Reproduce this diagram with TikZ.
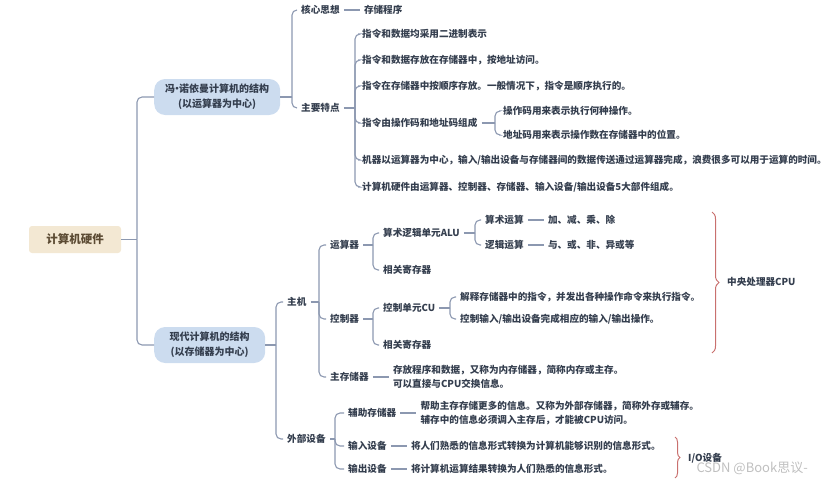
\documentclass[tikz,border=0pt]{standalone}
\usepackage{fontspec}
\newfontfamily\cjk{Noto Sans CJK SC}
\usetikzlibrary{positioning, decorations.pathreplacing}

\definecolor{lineC}{HTML}{8C98B0}
\definecolor{txtC}{HTML}{343E4E}
\definecolor{boxC}{HTML}{CCDCEF}
\definecolor{rootC}{HTML}{F3E8D3}
\definecolor{rootT}{HTML}{5C4B33}
\definecolor{braceC}{HTML}{C9706E}

\begin{document}
\begin{tikzpicture}[
			x=1pt, y=-1pt,
			node distance=16pt,
			every node/.style={font=\cjk\bfseries\fontsize{9.6}{13.5}\selectfont, text=txtC},
			item/.style={anchor=west, inner sep=4pt},
			root/.style={rectangle, rounded corners=3pt, fill=rootC, text=rootT, minimum width=92pt, minimum height=27pt, font=\cjk\bfseries\fontsize{11.5}{14}\selectfont},
			branch/.style={rectangle, rounded corners=11pt, fill=boxC, align=center, anchor=west, minimum height=36pt, inner sep=0pt, font=\cjk\bfseries\fontsize{10}{15}\selectfont},
			conn/.style={draw=lineC, line width=1.1pt, rounded corners=5pt},
			leafline/.style={draw=lineC, line width=1.1pt},
			cbrace/.style={draw=braceC, line width=1pt, decorate, decoration={brace, amplitude=7pt}},
			mark_wm/.style={anchor=west, text=gray!50, font=\cjk\fontsize{13}{15}\selectfont}
		]
		\useasboundingbox (0,0) rectangle (830,485);

		% --- RADICE ---
		\node (root) [root] at (75,239.5) {计算机硬件};
		\node (fn) [branch, minimum width=126pt] at (154,97) {冯\makebox[4pt]{·}诺依曼计算机的结构\\(以运算器为中心)};
		\node (xd) [branch, minimum width=111pt] at (154,345) {现代计算机的结构\\(以存储器为中心)};
		\coordinate (bRoot) at (137,0);

		% --- VON NEUMANN ---
		\coordinate (bFn) at (292,0);
		\node (hx) [item] at (297,10) {核心思想};
		\node (cc) [item, right=of hx] {存储程序};
		\node (tz) [item] at (297,108) {主要特点};

		\coordinate (bTz) at (355,0);
		\node (t1) [item] at (358,34) {指令和数据均采用二进制表示};
		\node (t2) [item] at (358,60) {指令和数据存放在存储器中，按地址访问。};
		\node (t3) [item] at (358,86) {指令在存储器中按顺序存放。一般情况下，指令是顺序执行的。};
		\node (t4) [item] at (358,123) {指令由操作码和地址码组成};
		\node (t5) [item] at (358,160) {机器以运算器为中心，输入/输出设备与存储器间的数据传送通过运算器完成，浪费很多可以用于运算的时间。};
		\node (t6) [item] at (358,187) {计算机硬件由运算器、控制器、存储器、输入设备/输出设备5大部件组成。};

		\coordinate (bZl) at (495,0);
		\node (z1) [item] at (499,111) {操作码用来表示执行何种操作。};
		\node (z2) [item] at (499,135) {地址码用来表示操作数在存储器中的位置。};

		% --- COMPUTER MODERNO ---
		\coordinate (bXd) at (276,0);
		\node (zj) [item] at (283,302) {主机};
		\node (wb) [item] at (283,439) {外部设备};

		\coordinate (bZj) at (319,0);
		\node (ys) [item] at (326,245) {运算器};
		\node (kz) [item] at (326,319) {控制器};
		\node (zc) [item] at (326,377) {主存储器};
		\node (zcT) [item, align=left, right=of zc] {存放程序和数据，又称为内存储器，简称内存或主存。\\可以直接与CPU交换信息。};

		% Unita' aritmetica
		\coordinate (bYs) at (373,0);
		\node (alu) [item] at (379,233) {算术逻辑单元ALU};
		\node (ysR) [item] at (379,270) {相关寄存器};
		\coordinate (bAlu) at (475,0);
		\node (sy) [item] at (481,220) {算术运算};
		\node (jj) [item, right=of sy] {加、减、乘、除};
		\node (ly) [item] at (481,245) {逻辑运算};
		\node (yh) [item, right=of ly] {与、或、非、异或等};

		% Unita' di controllo
		\coordinate (bKz) at (373,0);
		\node (cu) [item] at (379,308) {控制单元CU};
		\node (kzR) [item] at (379,345) {相关寄存器};
		\coordinate (bCu) at (450,0);
		\node (c1) [item] at (456,297) {解释存储器中的指令，并发出各种操作命令来执行指令。};
		\node (c2) [item] at (456,319) {控制输入/输出设备完成相应的输入/输出操作。};

		% Periferiche
		\coordinate (bWb) at (335,0);
		\node (fz) [item] at (344,413) {辅助存储器};
		\node (fzT) [item, align=left, right=of fz] {帮助主存存储更多的信息。又称为外部存储器，简称外存或辅存。\\辅存中的信息必须调入主存后，才能被CPU访问。};
		\node (sr) [item] at (344,446) {输入设备};
		\node (srT) [item, right=of sr] {将人们熟悉的信息形式转换为计算机能够识别的信息形式。};
		\node (sc) [item] at (344,469) {输出设备};
		\node (scT) [item, right=of sc] {将计算机运算结果转换为人们熟悉的信息形式。};

		% --- GRAFFE ---
		\coordinate (cpuT) at (712,212);
		\coordinate (cpuB) at (712,353);
		\node (cpu) [item] at (723,282) {中央处理器CPU};
		\coordinate (ioT) at (675,437);
		\coordinate (ioB) at (675,478);
		\node (io) [item] at (684,458) {I/O设备};
		\node (wm) [mark_wm] at (693,468) {CSDN @Book思议-};

		% --- COLLEGAMENTI ---
		\draw [conn] (root.east) -- (root.east -| bRoot);
		\foreach \c in {fn,xd} \draw [conn] (\c.west) -| (root.east -| bRoot);

		\draw [conn] (fn.east) -- (fn.east -| bFn);
		\foreach \c in {hx,tz} \draw [conn] (\c.west) -| (fn.east -| bFn);
		\draw [leafline] (hx) -- (cc);

		\draw [conn] (tz.east) -- (tz.east -| bTz);
		\foreach \c in {t1,t2,t3,t4,t5,t6} \draw [conn] (\c.west) -| (tz.east -| bTz);
		\draw [conn] (t4.east) -- (t4.east -| bZl);
		\foreach \c in {z1,z2} \draw [conn] (\c.west) -| (t4.east -| bZl);

		\draw [conn] (xd.east) -- (xd.east -| bXd);
		\foreach \c in {zj,wb} \draw [conn] (\c.west) -| (xd.east -| bXd);

		\draw [conn] (zj.east) -- (zj.east -| bZj);
		\foreach \c in {ys,kz,zc} \draw [conn] (\c.west) -| (zj.east -| bZj);
		\draw [leafline] (zc) -- (zcT);

		\draw [conn] (ys.east) -- (ys.east -| bYs);
		\foreach \c in {alu,ysR} \draw [conn] (\c.west) -| (ys.east -| bYs);
		\draw [conn] (alu.east) -- (alu.east -| bAlu);
		\foreach \c in {sy,ly} \draw [conn] (\c.west) -| (alu.east -| bAlu);
		\draw [leafline] (sy) -- (jj);
		\draw [leafline] (ly) -- (yh);

		\draw [conn] (kz.east) -- (kz.east -| bKz);
		\foreach \c in {cu,kzR} \draw [conn] (\c.west) -| (kz.east -| bKz);
		\draw [conn] (cu.east) -- (cu.east -| bCu);
		\foreach \c in {c1,c2} \draw [conn] (\c.west) -| (cu.east -| bCu);

		\draw [conn] (wb.east) -- (wb.east -| bWb);
		\foreach \c in {fz,sr,sc} \draw [conn] (\c.west) -| (wb.east -| bWb);
		\draw [leafline] (fz) -- (fzT);
		\draw [leafline] (sr) -- (srT);
		\draw [leafline] (sc) -- (scT);

		% Graffe CPU e I/O
		\draw [cbrace] (cpuT) -- (cpuB);
		\draw [cbrace, decoration={brace, amplitude=5pt}] (ioT) -- (ioB);
	\end{tikzpicture}
\end{document}
